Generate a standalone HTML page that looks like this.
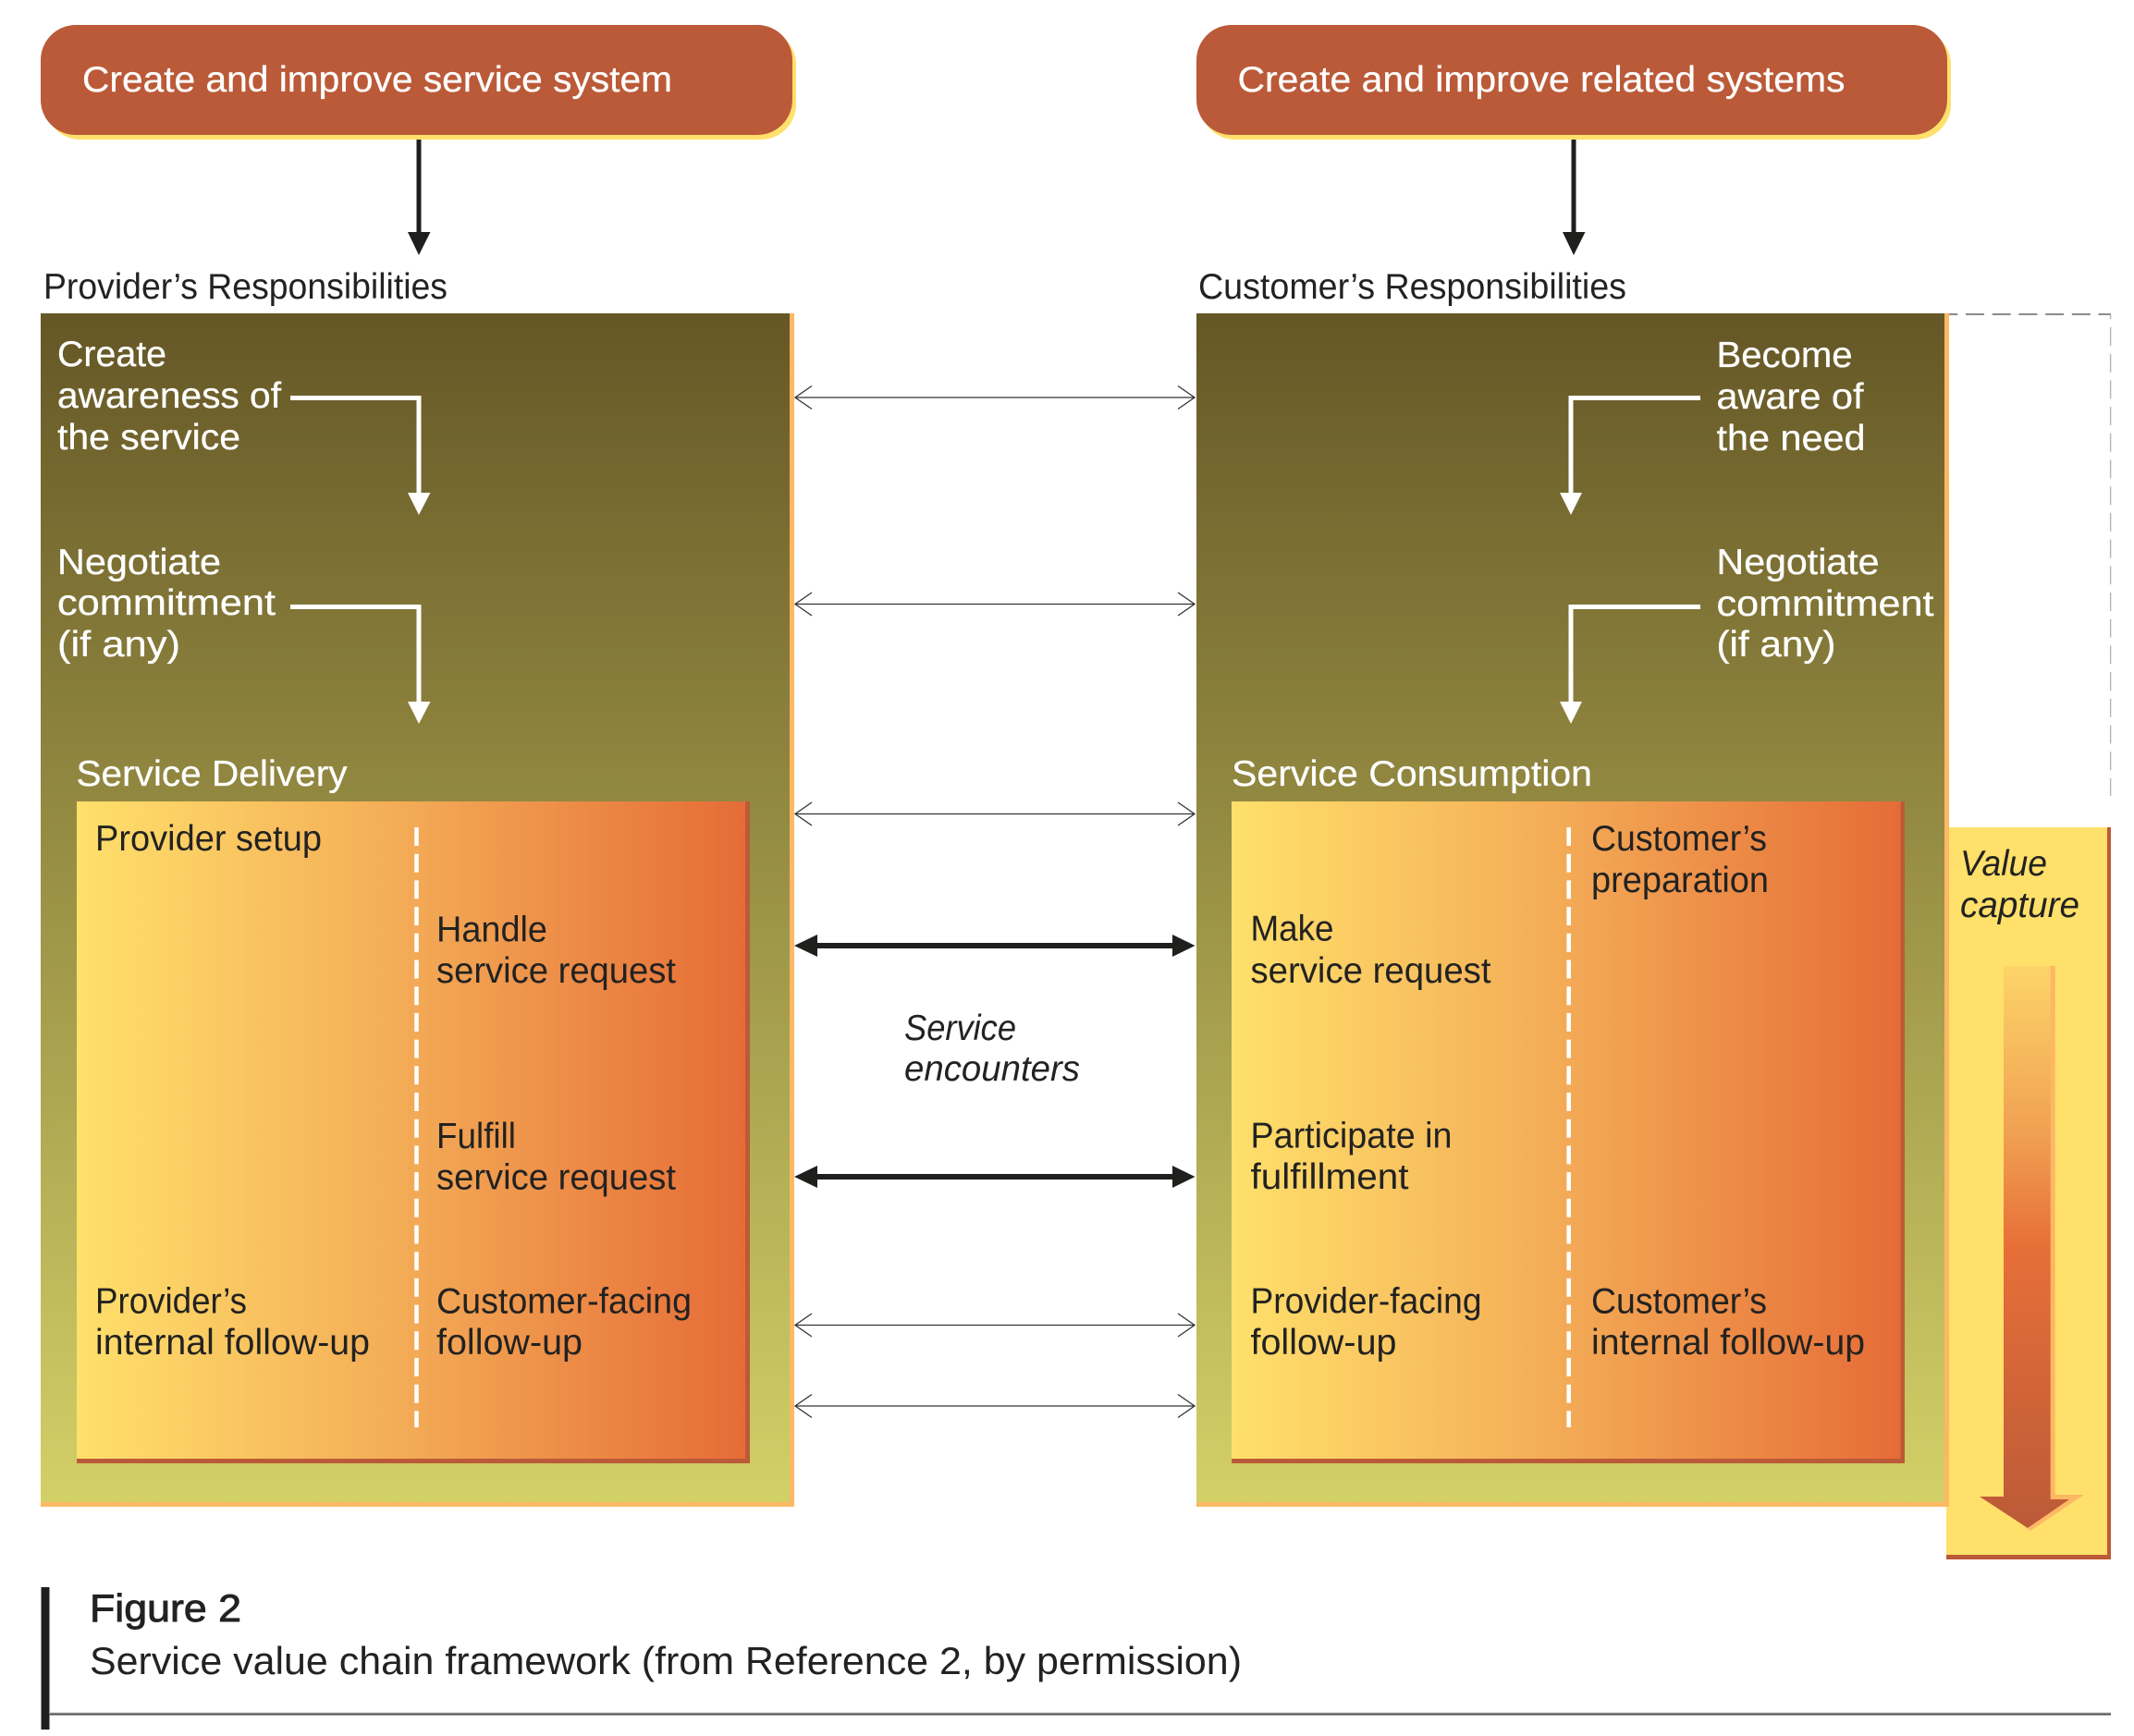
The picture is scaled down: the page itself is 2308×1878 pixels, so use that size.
<!DOCTYPE html>
<html>
<head>
<meta charset="utf-8">
<title>Service value chain framework</title>
<style>
html,body{margin:0;padding:0;background:#fff;width:2308px;height:1878px;overflow:hidden}
svg{display:block}
text{font-family:"Liberation Sans",sans-serif;font-size:39px;fill:#222221}
.w{fill:#fff;stroke:#fff;stroke-width:.3px}
.i{font-style:italic}
.h{font-size:42px;stroke:#222221;stroke-width:.9px}
.c{font-size:42px}
</style>
</head>
<body>
<svg xmlns="http://www.w3.org/2000/svg" width="2308" height="1878" viewBox="0 0 2308 1878">
<defs>
<linearGradient id="g" x1="0" y1="0" x2="0" y2="1">
<stop offset="0" stop-color="#655726"/><stop offset="1" stop-color="#d3d068"/>
</linearGradient>
<linearGradient id="p" x1="0" y1="0" x2="1" y2="0">
<stop offset="0" stop-color="#ffe06b"/><stop offset=".5" stop-color="#f3aa56"/><stop offset=".99" stop-color="#e66d37"/><stop offset="1" stop-color="#e66c36"/>
</linearGradient>
<linearGradient id="a" gradientUnits="userSpaceOnUse" x1="0" y1="1045" x2="0" y2="1653">
<stop offset="0" stop-color="#fdd468"/><stop offset=".3" stop-color="#f0a052"/><stop offset=".5" stop-color="#e76f38"/><stop offset="1" stop-color="#bb5a38"/>
</linearGradient>
</defs>

<!-- pills -->
<rect x="49" y="32" width="812" height="119" rx="38" fill="#ffe06b"/>
<rect x="44" y="27" width="813" height="119" rx="38" fill="#bb5a38"/>
<rect x="1298" y="32" width="812" height="119" rx="38" fill="#ffe06b"/>
<rect x="1294" y="27" width="812" height="119" rx="38" fill="#bb5a38"/>
<text class="w" x="89" y="99" textLength="638" lengthAdjust="spacingAndGlyphs">Create and improve service system</text>
<text class="w" x="1338.500" y="99" textLength="657" lengthAdjust="spacingAndGlyphs">Create and improve related systems</text>

<!-- black down arrows -->
<rect x="450.5" y="151" width="5" height="101" fill="#1f1f1d"/>
<polygon points="441,251 465.5,251 453,276" fill="#1f1f1d"/>
<rect x="1699.5" y="151" width="5" height="101" fill="#1f1f1d"/>
<polygon points="1690,251 1714.5,251 1702,276" fill="#1f1f1d"/>

<text x="47" y="323" textLength="437" lengthAdjust="spacingAndGlyphs">Provider’s Responsibilities</text>
<text x="1296" y="323" textLength="463" lengthAdjust="spacingAndGlyphs">Customer’s Responsibilities</text>

<!-- dashed value frame -->
<line x1="2108" y1="340" x2="2283" y2="340" stroke="#666" stroke-width="1.6" stroke-dasharray="20 8.7" stroke-dashoffset="10.7"/>
<line x1="2282.6" y1="340" x2="2282.6" y2="861" stroke="#b5b5b5" stroke-width="1.4" stroke-dasharray="20 8.7" stroke-dashoffset="14.7"/>

<!-- value capture -->
<rect x="2105" y="895" width="178" height="792" fill="#bb5a38"/>
<rect x="2105" y="895" width="174" height="787" fill="#ffe06b"/>

<!-- main boxes -->
<rect x="44" y="339" width="815" height="1291" fill="#fdb863"/>
<rect x="44" y="339" width="810" height="1286" fill="url(#g)"/>
<rect x="1294" y="339" width="814" height="1291" fill="#fdb863"/>
<rect x="1294" y="339" width="809" height="1286" fill="url(#g)"/>

<!-- inner panels -->
<rect x="83" y="867" width="728" height="716" fill="#bb5a38"/>
<rect x="83" y="867" width="723" height="711" fill="url(#p)"/>
<rect x="1332" y="867" width="728" height="716" fill="#bb5a38"/>
<rect x="1332" y="867" width="723.500" height="711" fill="url(#p)"/>

<!-- value arrow -->
<polygon points="2217,1045 2222.7,1045 2222.7,1617 2254,1617 2196,1656 2188,1650" fill="#fdb863"/>
<polygon points="2167,1045 2217.7,1045 2217.7,1622 2238,1622 2193,1653 2141,1619 2167,1619" fill="url(#a)"/>

<!-- white dashes -->
<line x1="450.500" y1="895" x2="450.500" y2="1544" stroke="#fff" stroke-width="4.500" stroke-dasharray="20 8.7"/>
<line x1="1696.700" y1="895" x2="1696.700" y2="1544" stroke="#fff" stroke-width="4.500" stroke-dasharray="20 8.7"/>

<!-- white elbow arrows -->
<g fill="none" stroke="#fff" stroke-width="5">
<polyline points="314,430.500 453,430.500 453,535"/>
<polyline points="314,656.500 453,656.500 453,760"/>
<polyline points="1839,430.500 1699,430.500 1699,535"/>
<polyline points="1839,656.500 1699,656.500 1699,760"/>
</g>
<g fill="#fff">
<polygon points="441,533 465.5,533 453,557"/>
<polygon points="441,759 465.5,759 453,783"/>
<polygon points="1687,533 1711,533 1699,557"/>
<polygon points="1687,759 1711,759 1699,783"/>
</g>

<!-- thin double arrows -->
<g fill="none" stroke="#333" stroke-width="1.3">
<path d="M860 430H1292M878 417.500L860 430L878 442.500M1274 417.500L1292 430L1274 442.500"/>
<path d="M860 653.500H1292M878 641L860 653.500L878 666M1274 641L1292 653.500L1274 666"/>
<path d="M860 880.500H1292M878 868L860 880.500L878 893M1274 868L1292 880.500L1274 893"/>
<path d="M860 1433.500H1292M878 1421L860 1433.500L878 1446M1274 1421L1292 1433.500L1274 1446"/>
<path d="M860 1521H1292M878 1508.500L860 1521L878 1533.500M1274 1508.500L1292 1521L1274 1533.500"/>
</g>

<!-- bold double arrows -->
<g fill="#1f1f1d">
<rect x="884" y="1020" width="384" height="6"/>
<polygon points="859,1023 884,1011 884,1035"/>
<polygon points="1292.500,1023 1268,1011 1268,1035"/>
<rect x="884" y="1270" width="384" height="6"/>
<polygon points="859,1273 884,1261 884,1285"/>
<polygon points="1292.500,1273 1268,1261 1268,1285"/>
</g>

<!-- left column white text -->
<text class="w" x="62" y="396" textLength="118" lengthAdjust="spacingAndGlyphs">Create</text>
<text class="w" x="62" y="441" textLength="242" lengthAdjust="spacingAndGlyphs">awareness of</text>
<text class="w" x="62" y="486" textLength="198" lengthAdjust="spacingAndGlyphs">the service</text>
<text class="w" x="62" y="621" textLength="177" lengthAdjust="spacingAndGlyphs">Negotiate</text>
<text class="w" x="62" y="665" textLength="236" lengthAdjust="spacingAndGlyphs">commitment</text>
<text class="w" x="62" y="710" textLength="133" lengthAdjust="spacingAndGlyphs">(if any)</text>
<text class="w" x="82.500" y="850" textLength="293" lengthAdjust="spacingAndGlyphs">Service Delivery</text>

<!-- right column white text -->
<text class="w" x="1856.500" y="397" textLength="147" lengthAdjust="spacingAndGlyphs">Become</text>
<text class="w" x="1856.500" y="442" textLength="159" lengthAdjust="spacingAndGlyphs">aware of</text>
<text class="w" x="1856.500" y="487" textLength="161" lengthAdjust="spacingAndGlyphs">the need</text>
<text class="w" x="1856.500" y="621" textLength="176" lengthAdjust="spacingAndGlyphs">Negotiate</text>
<text class="w" x="1856.500" y="666" textLength="235" lengthAdjust="spacingAndGlyphs">commitment</text>
<text class="w" x="1856.500" y="710" textLength="129" lengthAdjust="spacingAndGlyphs">(if any)</text>
<text class="w" x="1332" y="850" textLength="390" lengthAdjust="spacingAndGlyphs">Service Consumption</text>

<!-- panel 1 text -->
<text x="103" y="920" textLength="245" lengthAdjust="spacingAndGlyphs">Provider setup</text>
<text x="472" y="1018.500" textLength="120" lengthAdjust="spacingAndGlyphs">Handle</text>
<text x="472" y="1063" textLength="259" lengthAdjust="spacingAndGlyphs">service request</text>
<text x="472" y="1242" textLength="86" lengthAdjust="spacingAndGlyphs">Fulfill</text>
<text x="472" y="1286.500" textLength="259" lengthAdjust="spacingAndGlyphs">service request</text>
<text x="103" y="1420.500" textLength="164" lengthAdjust="spacingAndGlyphs">Provider’s</text>
<text x="103" y="1465" textLength="297" lengthAdjust="spacingAndGlyphs">internal follow-up</text>
<text x="472" y="1420.500" textLength="276" lengthAdjust="spacingAndGlyphs">Customer-facing</text>
<text x="472" y="1465" textLength="158" lengthAdjust="spacingAndGlyphs">follow-up</text>

<!-- panel 2 text -->
<text x="1721" y="920" textLength="190" lengthAdjust="spacingAndGlyphs">Customer’s</text>
<text x="1721" y="965" textLength="192" lengthAdjust="spacingAndGlyphs">preparation</text>
<text x="1352.500" y="1017.500" textLength="90" lengthAdjust="spacingAndGlyphs">Make</text>
<text x="1352.500" y="1063" textLength="260" lengthAdjust="spacingAndGlyphs">service request</text>
<text x="1352.500" y="1241.500" textLength="218" lengthAdjust="spacingAndGlyphs">Participate in</text>
<text x="1352.500" y="1286" textLength="171" lengthAdjust="spacingAndGlyphs">fulfillment</text>
<text x="1352.500" y="1420.500" textLength="250" lengthAdjust="spacingAndGlyphs">Provider-facing</text>
<text x="1352.500" y="1465" textLength="158" lengthAdjust="spacingAndGlyphs">follow-up</text>
<text x="1721" y="1420.500" textLength="190" lengthAdjust="spacingAndGlyphs">Customer’s</text>
<text x="1721" y="1465" textLength="296" lengthAdjust="spacingAndGlyphs">internal follow-up</text>

<!-- italics -->
<text class="i" x="978" y="1125" textLength="121" lengthAdjust="spacingAndGlyphs">Service</text>
<text class="i" x="978" y="1169" textLength="190" lengthAdjust="spacingAndGlyphs">encounters</text>
<text class="i" x="2120" y="947" textLength="94" lengthAdjust="spacingAndGlyphs">Value</text>
<text class="i" x="2120" y="992" textLength="129" lengthAdjust="spacingAndGlyphs">capture</text>

<!-- caption -->
<rect x="44.500" y="1717" width="9" height="154" fill="#1f1f1d"/>
<rect x="53" y="1852.500" width="2230" height="1" fill="#bbb"/>
<rect x="53" y="1853.500" width="2230" height="2" fill="#555"/>
<text class="h" x="97" y="1754" textLength="164" lengthAdjust="spacingAndGlyphs">Figure 2</text>
<text class="c" x="97" y="1811" textLength="1246" lengthAdjust="spacingAndGlyphs">Service value chain framework (from Reference 2, by permission)</text>
</svg>
</body>
</html>
